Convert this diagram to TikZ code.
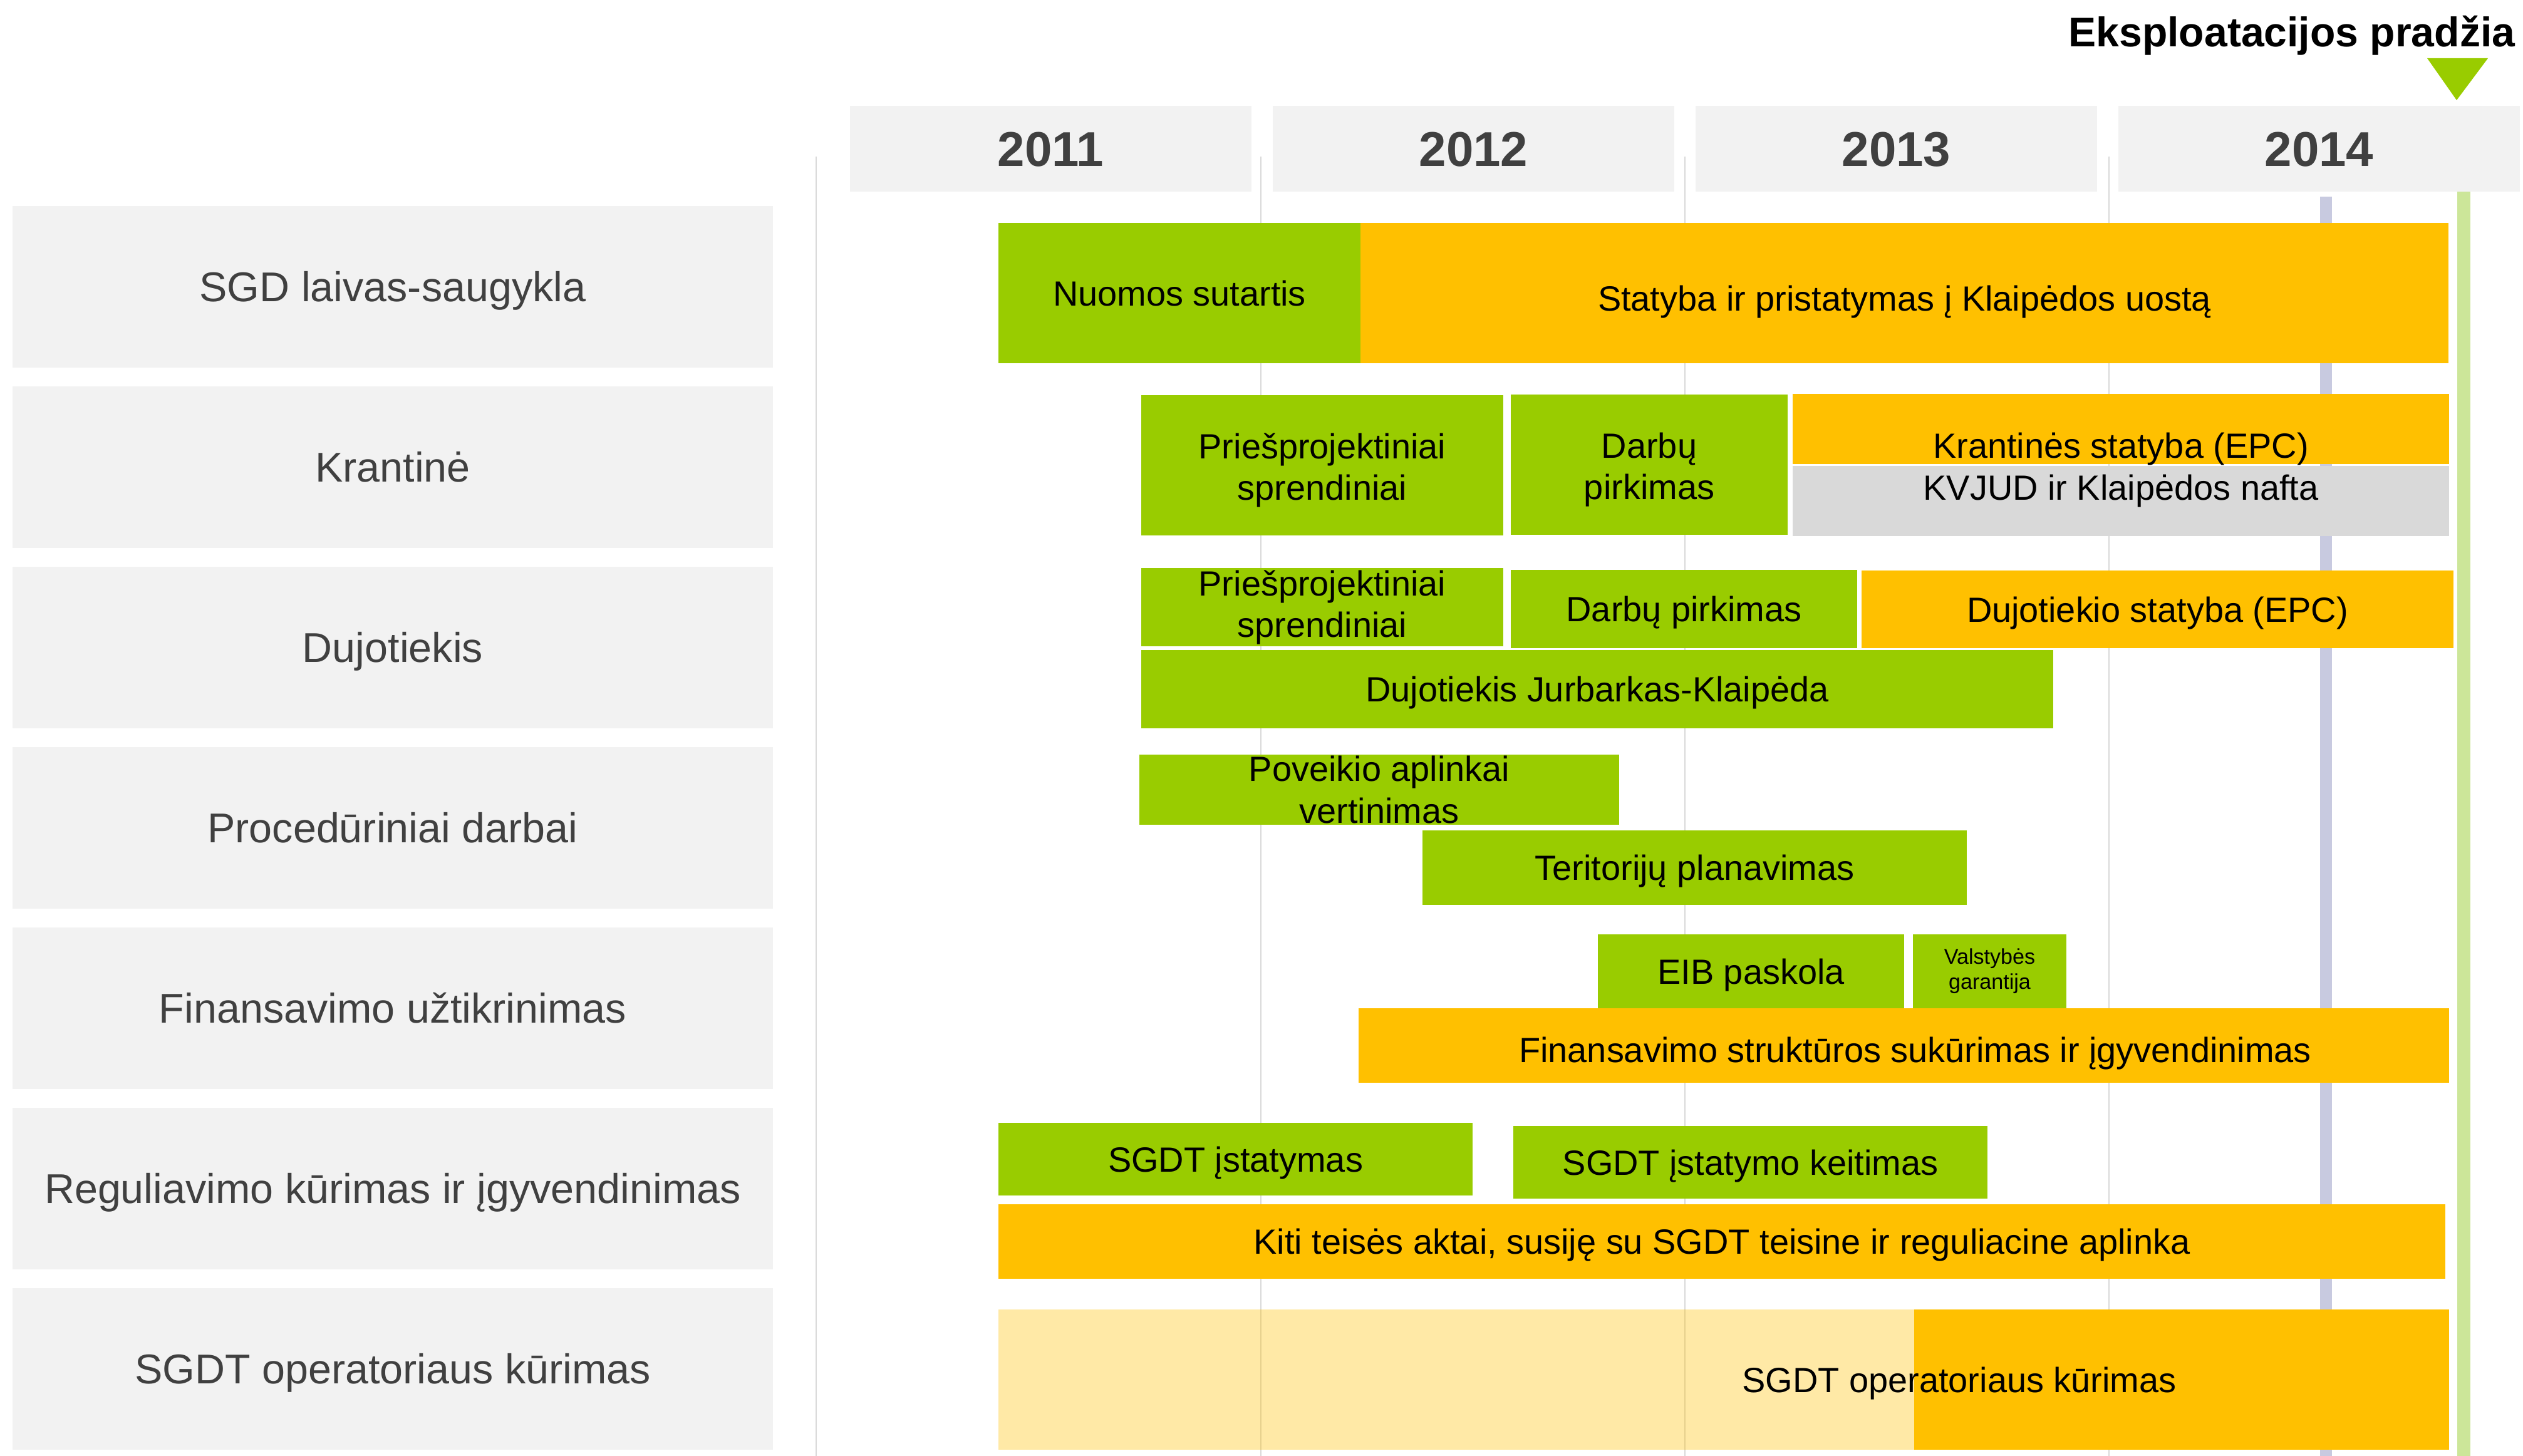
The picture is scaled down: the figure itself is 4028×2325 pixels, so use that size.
\documentclass[tikz,border=0pt]{standalone}
\usepackage{fontspec}
\setmainfont{Liberation Sans}
\usetikzlibrary{positioning,calc}

\definecolor{barGreen}{RGB}{153,204,0}
\definecolor{barOrange}{RGB}{255,192,0}
\definecolor{barGrey}{RGB}{217,217,217}
\definecolor{boxGrey}{RGB}{242,242,242}
\definecolor{txtGrey}{RGB}{64,64,64}
\definecolor{gridGrey}{RGB}{217,217,217}
\definecolor{nowBlue}{RGB}{200,202,224}
\definecolor{startGreen}{RGB}{204,230,153}

\tikzset{
	rowlabel/.style={fill=boxGrey, text=txtGrey, inner sep=0pt, minimum width=12.14cm, minimum height=2.58cm,
		font=\fontsize{18.9}{22}\selectfont, text height=13.5pt, text depth=0pt},
	yearhead/.style={fill=boxGrey, text=txtGrey, inner sep=0pt, minimum width=6.41cm, minimum height=1.37cm,
		font=\fontsize{22.2}{26}\selectfont\bfseries, text height=15.9pt, text depth=0pt},
	bar/.style={inner sep=0pt, outer sep=0pt, font=\fontsize{15.9}{18.8}\selectfont},
	oneline/.style={text height=11.4pt, text depth=0pt},
	gridline/.style={gridGrey, line width=0.6pt}
}
% name, colour, x1, y1, x2, y2, text
\newcommand{\ganttbar}[8][oneline]{%
	\node[bar, fill=#3, minimum width={(#6-#4)*0.01cm}, minimum height={(#7-#5)*0.01cm}, #1]
		(#2) at ({(#4+#6)/2},{(#5+#7)/2}) {#8};}

\begin{document}
\begin{tikzpicture}[x=0.01cm, y=-0.01cm]
	\useasboundingbox (0,0) rectangle (4028,2325);

	% rows and years
	\foreach \lbl [count=\i from 0] in {SGD laivas-saugykla, Krantinė, Dujotiekis, Procedūriniai darbai,
			Finansavimo užtikrinimas, Reguliavimo kūrimas ir įgyvendinimas, SGDT operatoriaus kūrimas}
		\node[rowlabel] (row\i) at (627,{458+288*\i}) {\lbl};
	\foreach \yr [count=\i from 0] in {2011,2012,2013,2014}
		\node[yearhead] (y\yr) at ({1677.5+675*\i},237.5) {\yr};

	\foreach \gx in {1303,2013,2690,3367}
		\draw[gridline] (\gx,250) -- (\gx,2325);
	\fill[nowBlue] (3704,314) rectangle (3723,2325);
	\fill[startGreen] (3923,306) rectangle (3944,2325);

	% start marker
	\fill[barGreen] (3875,93) -- (3972,93) -- (3922,160) -- cycle;
	\node[font=\fontsize{18.8}{23}\selectfont\bfseries, anchor=base east, inner sep=0pt]
		(start) at (4016,75) {Eksploatacijos pradžia};

	% SGD laivas-saugykla
	\ganttbar{nuomos}{barGreen}{1594}{356}{2172}{580}{Nuomos sutartis}
	\ganttbar[oneline, text height=16pt]{statyba}{barOrange}{2172}{356}{3909}{580}{Statyba ir pristatymas į Klaipėdos uostą}
	% Krantine
	\ganttbar[align=center]{kpries}{barGreen}{1822}{631}{2400}{855}{\\[-0.1cm]Priešprojektiniai\\sprendiniai}
	\ganttbar[align=center]{kdarbu}{barGreen}{2412}{630}{2854}{854}{\\[-0.1cm]Darbų\\pirkimas}
	\ganttbar[oneline, text height=26.2pt]{kstatyba}{barOrange}{2862}{629}{3910}{741}{Krantinės statyba (EPC)}
	\ganttbar[text height=0pt, text depth=1.1pt]{kvjud}{barGrey}{2862}{744}{3910}{856}{KVJUD ir Klaipėdos nafta}
	% Dujotiekis
	\ganttbar[align=center]{dpries}{barGreen}{1822}{907}{2400}{1032}{Priešprojektiniai\\sprendiniai}
	\ganttbar{ddarbu}{barGreen}{2412}{910}{2965}{1035}{Darbų pirkimas}
	\ganttbar{dstatyba}{barOrange}{2972}{911}{3917}{1035}{Dujotiekio statyba (EPC)}
	\ganttbar{djurb}{barGreen}{1822}{1038}{3278}{1163}{Dujotiekis Jurbarkas-Klaipėda}
	% Proceduriniai darbai
	\ganttbar[align=center]{poveikis}{barGreen}{1819}{1205}{2585}{1317}{Poveikio aplinkai\\vertinimas}
	\ganttbar{teritor}{barGreen}{2271}{1326}{3140}{1445}{Teritorijų planavimas}
	% Finansavimas
	\ganttbar{eib}{barGreen}{2551}{1492}{3040}{1610}{EIB paskola}
	\ganttbar[align=center, font=\fontsize{9.7}{11.4}\selectfont]{garant}{barGreen}{3054}{1492}{3299}{1610}{Valstybės\\garantija}
	\ganttbar[oneline, text height=15.4pt]{finstr}{barOrange}{2169}{1610}{3910}{1729}{\hspace*{0.36cm}Finansavimo struktūros sukūrimas ir įgyvendinimas}
	% Reguliavimas
	\ganttbar{istat}{barGreen}{1594}{1793}{2351}{1909}{SGDT įstatymas}
	\ganttbar{keit}{barGreen}{2416}{1798}{3173}{1914}{SGDT įstatymo keitimas}
	\ganttbar{kiti}{barOrange}{1594}{1923}{3904}{2042}{Kiti teisės aktai, susiję su SGDT teisine ir reguliacine aplinka}
	% SGDT operatorius
	\ganttbar[fill opacity=0.35]{operlight}{barOrange}{1594}{2091}{3056}{2315}{}
	\ganttbar{operdark}{barOrange}{3056}{2091}{3910}{2315}{}
	\node[bar, oneline] (opertxt) at (3128,2203) {SGDT operatoriaus kūrimas};
\end{tikzpicture}
\end{document}
